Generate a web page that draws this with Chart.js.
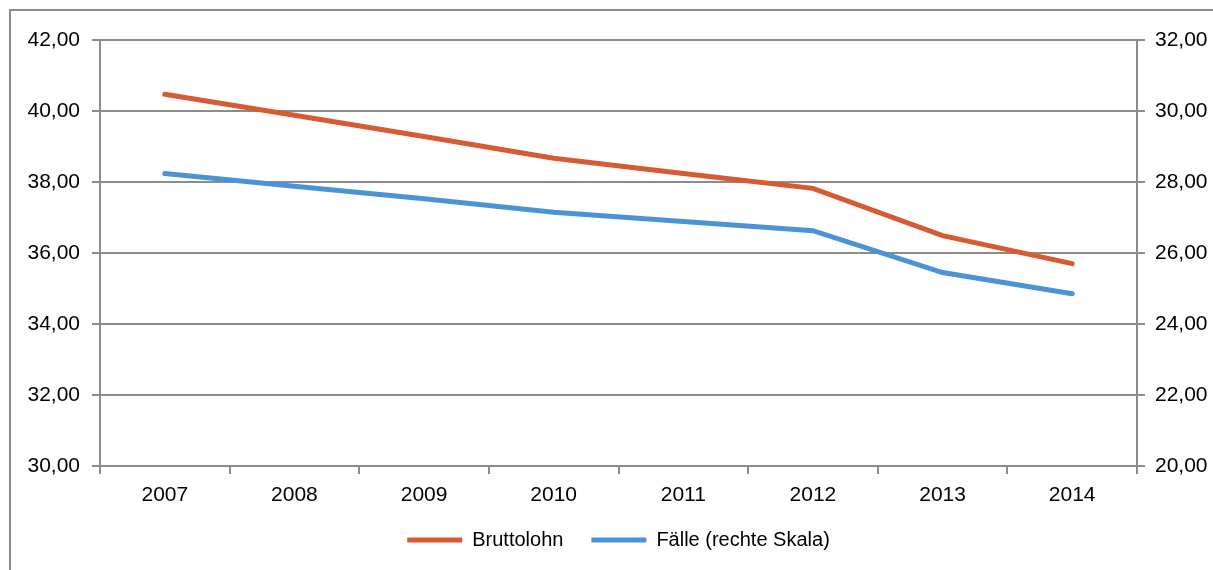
<!DOCTYPE html>
<html>
<head>
<meta charset="utf-8">
<script src="https://cdn.jsdelivr.net/npm/chart.js@4.4.1/dist/chart.umd.min.js"></script>
<style>
  html, body { margin: 0; padding: 0; background: #fff; }
  #wrap { width: 1213px; height: 570px; position: relative; }
</style>
</head>
<body>
<div id="wrap"><canvas id="grafico"></canvas></div>
<script>
// Jahre (Kategorien)
const jahre = ["2007", "2008", "2009", "2010", "2011", "2012", "2013", "2014"];
// Bruttolohn (linke Skala)
const bruttolohn = [40.47, 39.88, 39.28, 38.67, 38.24, 37.82, 36.49, 35.70];
// Fälle (rechte Skala)
const faelle = [28.24, 27.88, 27.53, 27.15, 26.89, 26.63, 25.45, 24.85];

const grau = "#8c8c8c";
const fonte = { family: "'Liberation Sans', Arial, sans-serif", size: 21 };
const fonteLegenda = { family: "'Liberation Sans', Arial, sans-serif", size: 20 };

function formatar(v) {
  return v.toFixed(2).replace(".", ",");
}

// Rahmen um die Grafik
const rahmen = {
  id: "rahmen",
  beforeDraw(chart) {
    const ctx = chart.ctx;
    ctx.save();
    ctx.fillStyle = "#fff";
    ctx.fillRect(0, 0, chart.width, chart.height);
    ctx.strokeStyle = grau;
    ctx.lineWidth = 2;
    ctx.beginPath();
    ctx.moveTo(10, chart.height);
    ctx.lineTo(10, 10);
    ctx.lineTo(chart.width, 10);
    ctx.stroke();
    ctx.restore();
  },
  // Legende unter der Zeichenfläche zentrieren
  afterLayout(chart) {
    const legenda = chart.legend;
    const area = chart.chartArea;
    const deslocamento = (area.left + area.right) / 2 - (legenda.left + legenda.right) / 2;
    legenda.left += deslocamento;
    legenda.right += deslocamento;
  },
};

const ctx = document.getElementById("grafico").getContext("2d");
const myChart = new Chart(ctx, {
  type: "line",
  data: {
    labels: jahre,
    datasets: [
      {
        label: "Bruttolohn",
        data: bruttolohn,
        borderColor: "#d65a33",
        backgroundColor: "#d65a33",
        borderWidth: 5,
        borderCapStyle: "round",
        tension: 0,
        pointRadius: 0,
        yAxisID: "y",
      },
      {
        label: "Fälle (rechte Skala)",
        data: faelle,
        borderColor: "#4a94d5",
        backgroundColor: "#4a94d5",
        borderWidth: 5,
        borderCapStyle: "round",
        tension: 0,
        pointRadius: 0,
        yAxisID: "y1",
      },
    ],
  },
  options: {
    responsive: true,
    maintainAspectRatio: false,
    animation: false,
    layout: { padding: { top: 40, left: 0, right: 0, bottom: 10 } },
    plugins: {
      legend: {
        position: "bottom",
        labels: {
          font: fonteLegenda,
          color: "#000",
          usePointStyle: true,
          pointStyle: "line",
          pointStyleWidth: 55,
          padding: 28,
        },
      },
      tooltip: { enabled: false },
    },
    scales: {
      x: {
        offset: true,
        grid: {
          offset: true,
          drawOnChartArea: false,
          color: grau,
          lineWidth: 2,
          tickLength: 8,
        },
        border: { color: grau, width: 2 },
        ticks: { font: fonte, color: "#000", padding: 9, maxRotation: 0 },
        afterFit(scale) {
          scale.height = 36;
        },
      },
      y: {
        position: "left",
        min: 30,
        max: 42,
        ticks: {
          stepSize: 2,
          font: fonte,
          color: "#000",
          padding: 12,
          callback: (v) => formatar(v),
        },
        grid: { color: grau, lineWidth: 2, tickLength: 8 },
        border: { color: grau, width: 2 },
        afterFit(scale) {
          scale.width = 100;
        },
      },
      y1: {
        position: "right",
        min: 20,
        max: 32,
        ticks: {
          stepSize: 2,
          font: fonte,
          color: "#000",
          padding: 10,
          callback: (v) => formatar(v),
        },
        grid: { drawOnChartArea: false, color: grau, lineWidth: 2, tickLength: 8 },
        border: { color: grau, width: 2 },
        afterFit(scale) {
          scale.width = 76;
        },
      },
    },
  },
  plugins: [rahmen],
});
</script>
</body>
</html>
